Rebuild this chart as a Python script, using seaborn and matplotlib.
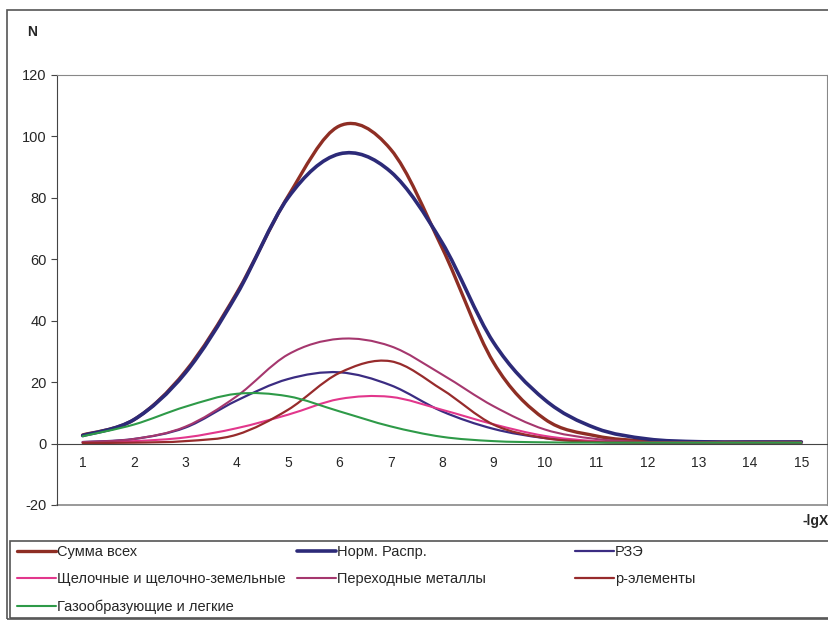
import pandas as pd
import matplotlib.pyplot as plt
import seaborn as sns
from matplotlib.patches import Rectangle, PathPatch
from matplotlib.path import Path

# Data (-lgX categories 1..15)
lgx = list(range(1, 16))
summa = [2.8, 7.8, 23.5, 49, 80.5, 103.4, 95.8, 63.8, 26.5, 8, 2.5, 0.8, 0.5, 0.5, 0.5]
norm = [2.6, 7.8, 23, 48.5, 80, 94.3, 88.5, 65.5, 33, 14.3, 5, 1.5, 0.6, 0.5, 0.5]
rze = [0.5, 1.5, 5.2, 14, 21, 23.2, 19, 10.5, 4.8, 1.8, 0.6, 0.3, 0.3, 0.3, 0.3]
alkali = [0.3, 0.8, 2, 5, 9.4, 14.5, 15.2, 11, 6.3, 2.5, 0.8, 0.4, 0.3, 0.3, 0.3]
transition = [0.5, 1.5, 5.5, 15.4, 29, 34.1, 31.7, 22.5, 12.2, 4.6, 1.5, 0.5, 0.3, 0.3, 0.3]
p_elem = [0.2, 0.3, 0.8, 2.9, 11, 23, 26.8, 17.6, 6.2, 1.8, 0.5, 0.3, 0.3, 0.3, 0.3]
gas = [2.4, 6.2, 12, 16.2, 15.4, 10.5, 5.6, 2.2, 0.8, 0.4, 0.3, 0.3, 0.3, 0.3, 0.3]

labels = ['Сумма всех', 'Норм. Распр.', 'РЗЭ', 'Щелочные и щелочно-земельные',
          'Переходные металлы', 'р-элементы', 'Газообразующие и легкие']
series = [summa, norm, rze, alkali, transition, p_elem, gas]
colors = ['#8E2E24', '#2C2A78', '#3B2C82', '#E2378C', '#A5376E', '#972B2C', '#2E9A48']
widths = [2.4, 2.6, 1.6, 1.5, 1.5, 1.6, 1.5]


def smooth_path(xy):
    # Excel-like "smoothed line": cubic Bezier through the points
    verts = [tuple(xy[0])]
    codes = [Path.MOVETO]
    n = len(xy)
    for i in range(n - 1):
        p0 = xy[max(i - 1, 0)]
        p1 = xy[i]
        p2 = xy[i + 1]
        p3 = xy[min(i + 2, n - 1)]
        c1 = p1 + (p2 - p0) / 6
        c2 = p2 - (p3 - p1) / 6
        verts += [tuple(c1), tuple(c2), tuple(p2)]
        codes += [Path.CURVE4] * 3
    return Path(verts, codes)


sns.set_style('white')
plt.rcParams['font.family'] = ['Liberation Sans', 'DejaVu Sans']
plt.rcParams['axes.unicode_minus'] = False

fig = plt.figure(figsize=(8.29, 6.21), dpi=100)
W, H = 829, 621
ax = fig.add_axes([57 / W, 1 - 505 / H, 770 / W, 430 / H])

df = pd.DataFrame({'lgX': lgx})
for lab, vals in zip(labels, series):
    df[lab] = vals

handles = {}
for lab, col, lw in zip(labels, colors, widths):
    sns.lineplot(data=df, x='lgX', y=lab, ax=ax, color=col, linewidth=lw, legend=False)
    line = ax.lines[-1]
    # redraw seaborn's line as a smoothed curve
    ax.add_patch(PathPatch(smooth_path(line.get_xydata()), fill=False, edgecolor=col,
                           lw=lw, joinstyle='round', capstyle='round'))
    line.remove()
    handles[lab] = line

ax.set_xlim(0.5, 15.5)
ax.set_ylim(-20, 120)
ax.set_yticks(range(-20, 121, 20))
ax.set_xticks(lgx)
ax.set_xticklabels([str(v) for v in lgx])
ax.set_xticks([v + 0.5 for v in range(0, 16)], minor=True)
ax.set_xlabel('')
ax.set_ylabel('')

# Excel-style axes: x axis crosses at 0
ax.spines['bottom'].set_position(('data', 0))
ax.spines['bottom'].set_color('#444444')
ax.spines['left'].set_color('#444444')
for s in ['top', 'right']:
    ax.spines[s].set_color('#888888')
ax.axhline(-20, color='#888888', lw=1.2, clip_on=False)

ax.tick_params(axis='x', which='major', length=0, pad=9, labelsize=10)
ax.tick_params(axis='x', which='minor', length=4, direction='out', color='#444444')
ax.tick_params(axis='y', length=4, direction='out', color='#444444', labelsize=10.5, left=True)

fig.text(27 / W, 1 - 32 / H, 'N', fontweight='bold', fontsize=10, va='center', ha='left')
fig.text(829 / W, 1 - 521 / H, '-lgX', fontweight='bold', fontsize=10, va='center', ha='right')

# outer frame and legend frame
fig.add_artist(Rectangle((7 / W, 2 / H), 1.0, 1 - 12 / H, transform=fig.transFigure,
                         fill=False, edgecolor='#555555', lw=1.2))
fig.add_artist(Rectangle((10 / W, 3 / H), 1.0, (621 - 541 - 3) / H, transform=fig.transFigure,
                         fill=False, edgecolor='#555555', lw=1.2))

columns = [
    (17, [labels[0], labels[3], labels[6]]),
    (297, [labels[1], labels[4]]),
    (575, [labels[2], labels[5]]),
]
for x0, labs in columns:
    fig.legend([handles[l] for l in labs], labs, loc='upper left',
               bbox_to_anchor=(x0 / W, 1 - 545 / H), frameon=False,
               borderpad=0, borderaxespad=0, handlelength=2.7, handletextpad=0.05,
               labelspacing=0.9, fontsize=10.5)

fig.savefig('out.png', dpi=100)
